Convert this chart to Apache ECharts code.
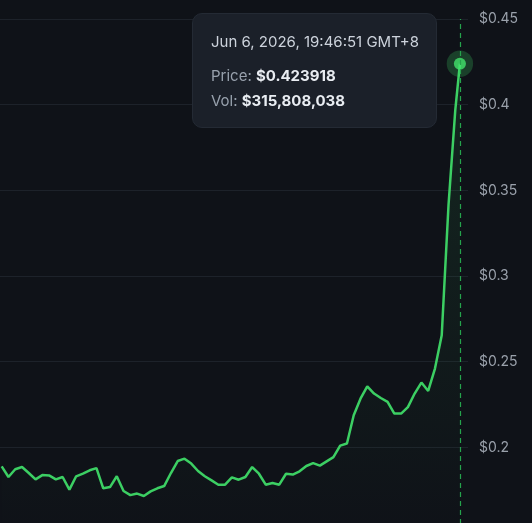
<!DOCTYPE html>
<html>
<head>
<meta charset="utf-8">
<script src="https://cdn.jsdelivr.net/npm/echarts@6/dist/echarts.min.js"></script>
<style>
  html, body { margin: 0; padding: 0; background: #0f1218; }
  #chart { width: 532px; height: 523px; }
</style>
</head>
<body>
<div id="chart"></div>
<script>
// price readings, 10 min apart, last one is the live tick
const prices = [
  0.1889, 0.1827, 0.1872, 0.1885, 0.1850, 0.1813, 0.1838, 0.1836, 0.1813, 0.1827,
  0.1753, 0.1831, 0.1847, 0.1866, 0.1879, 0.1761, 0.1768, 0.1831, 0.1745, 0.1721,
  0.1730, 0.1716, 0.1743, 0.1761, 0.1774, 0.1850, 0.1920, 0.1934, 0.1905, 0.1862,
  0.1831, 0.1807, 0.1782, 0.1782, 0.1825, 0.1811, 0.1827, 0.1885, 0.1846, 0.1782,
  0.1792, 0.1782, 0.1846, 0.1841, 0.1860, 0.1891, 0.1908, 0.1893, 0.1918, 0.1943,
  0.2010, 0.2022, 0.2187, 0.2284, 0.2356, 0.2314, 0.2288, 0.2265, 0.2197, 0.2197,
  0.2235, 0.2314, 0.2378, 0.2329, 0.2460, 0.2654, 0.3413, 0.3968, 0.423918
];
const lastVolume = 315808038;
const yTicks = [0.15, 0.45, 0.05]; // min, max, interval

const stepMs = 10 * 60 * 1000;
const lastRegular = Date.UTC(2026, 5, 6, 11, 40, 0);
const lastTime = Date.UTC(2026, 5, 6, 11, 46, 51);
const times = prices.map((p, i) =>
  i === prices.length - 1 ? lastTime : lastRegular - (prices.length - 2 - i) * stepMs);

const green = '#3ccf63';
const last = prices.length - 1;

const months = ['Jan','Feb','Mar','Apr','May','Jun','Jul','Aug','Sep','Oct','Nov','Dec'];
function fmtTime(ts) {
  const d = new Date(ts + 8 * 3600 * 1000);
  const p = n => String(n).padStart(2, '0');
  return months[d.getUTCMonth()] + ' ' + d.getUTCDate() + ', ' + d.getUTCFullYear() + ', ' +
    p(d.getUTCHours()) + ':' + p(d.getUTCMinutes()) + ':' + p(d.getUTCSeconds()) + ' GMT+8';
}

const chart = echarts.init(document.getElementById('chart'));
chart.setOption({
  backgroundColor: '#0f1218',
  animation: false,
  grid: { left: 0, right: 64, top: 19, bottom: -10, containLabel: false, outerBoundsMode: 'none' },
  xAxis: {
    type: 'time',
    min: times[0] - 0.25 * stepMs,
    max: lastRegular + 1.88 * stepMs,
    axisLine: { show: false },
    axisTick: { show: false },
    axisLabel: { show: false },
    splitLine: { show: false },
    axisPointer: {
      type: 'line',
      label: { show: false },
      lineStyle: { color: '#25a34c', type: [5, 4], width: 1.2 }
    }
  },
  yAxis: {
    type: 'value',
    position: 'right',
    min: yTicks[0],
    max: yTicks[1],
    interval: yTicks[2],
    axisLine: { show: false },
    axisTick: { show: false },
    splitLine: { lineStyle: { color: '#1d222a', width: 1 } },
    axisLabel: {
      margin: 11,
      color: '#9aa1ab',
      fontFamily: 'Inter',
      fontSize: 14,
      formatter: v => '$' + Number(v.toFixed(2))
    }
  },
  tooltip: {
    trigger: 'axis',
    alwaysShowContent: true,
    transitionDuration: 0,
    backgroundColor: '#1b2029',
    borderColor: '#242a34',
    borderWidth: 1,
    padding: [18, 18, 14, 18],
    extraCssText: 'border-radius:10px;box-shadow:none;width:207px;',
    position: () => [192, 13],
    formatter: params => {
      const i = params[0].dataIndex;
      return '<div style="font-family:Inter;font-size:15px;line-height:20px;color:#cdd3dc">' + fmtTime(times[i]) + '</div>' +
        '<div style="margin-top:11px;font-family:Inter;font-size:15px;line-height:25px;color:#98a1ad">Price: <b style="color:#e9edf2">$' + prices[i] + '</b></div>' +
        '<div style="font-family:Inter;font-size:15px;line-height:25px;color:#98a1ad">Vol: <b style="color:#e9edf2">$' + lastVolume.toLocaleString('en-US') + '</b></div>';
    }
  },
  series: [
    {
      type: 'line',
      data: times.map((t, i) => [t, prices[i]]),
      showSymbol: false,
      symbol: 'none',
      lineStyle: { color: green, width: 2.5 },
      areaStyle: {
        color: new echarts.graphic.LinearGradient(0, 0, 0, 1, [
          { offset: 0, color: 'rgba(60,207,99,0.16)' },
          { offset: 1, color: 'rgba(60,207,99,0.0)' }
        ])
      },
      emphasis: { disabled: true }
    },
    {
      type: 'scatter',
      data: [[times[last], prices[last]]],
      symbolSize: 24,
      itemStyle: { color: 'rgba(60,207,99,0.28)' },
      silent: true,
      z: 3
    },
    {
      type: 'scatter',
      data: [[times[last], prices[last]]],
      symbolSize: 11,
      itemStyle: { color: green },
      silent: true,
      z: 4
    }
  ]
});
chart.dispatchAction({ type: 'showTip', seriesIndex: 0, dataIndex: last });
</script>
</body>
</html>
